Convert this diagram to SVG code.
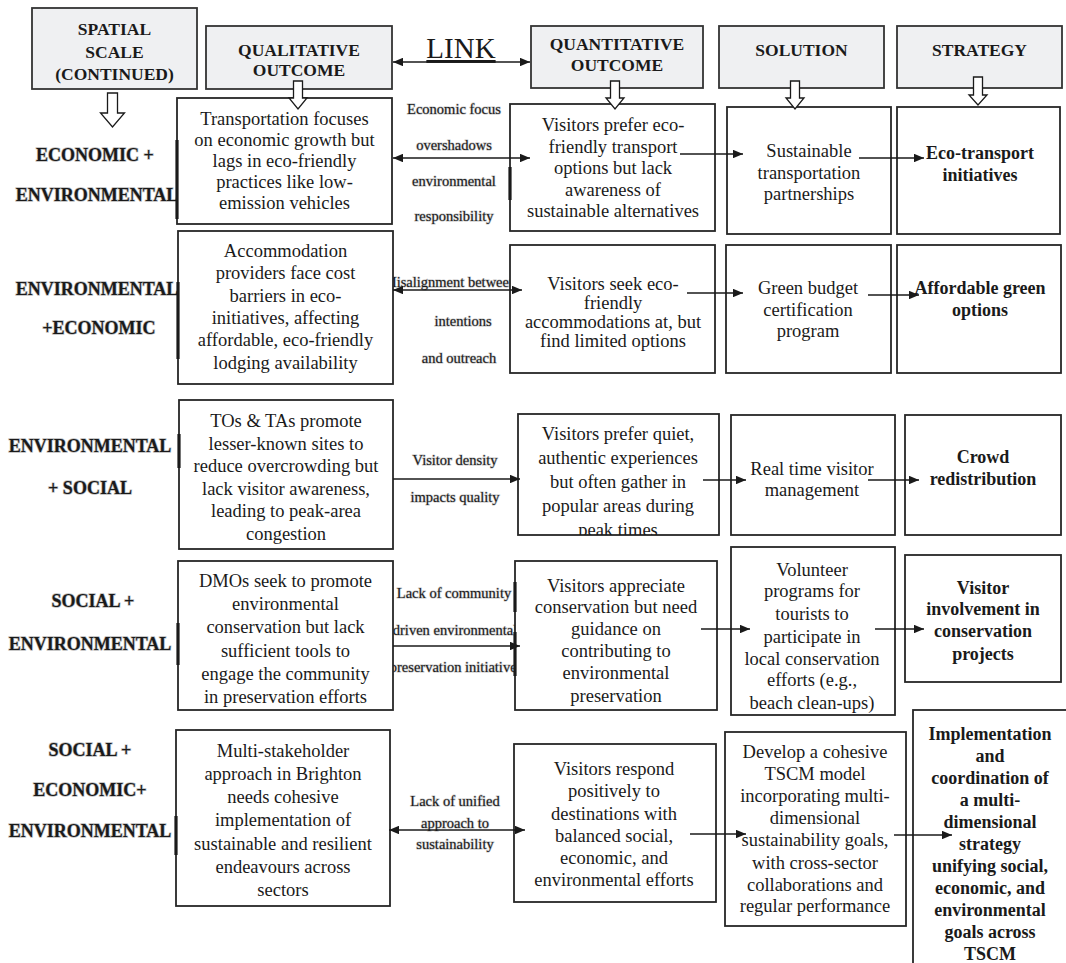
<svg xmlns="http://www.w3.org/2000/svg" width="1066" height="963" viewBox="0 0 1066 963">
  <style>
    .box { fill: #ffffff; stroke: #262626; stroke-width: 1.8; }
    .hbox { fill: #eff0f2; stroke: #333333; stroke-width: 1.8; }
    .edge { stroke: #1a1a1a; stroke-width: 3.2; }
    .blk { fill: #ffffff; stroke: #1a1a1a; stroke-width: 1.3; stroke-linejoin: miter; }
    .ln { stroke: #1a1a1a; stroke-width: 1.3; fill: none; }
    .one { marker-end: url(#ah); }
    .two { marker-start: url(#ah); marker-end: url(#ah); }
    text { font-family: "Liberation Serif", "Times New Roman", serif; fill: #1a1a1a; text-anchor: middle; }
    .hd { font-size: 17.5px; font-weight: bold; }
    .lb { font-size: 18px; font-weight: bold; fill: #222222; stroke: #bdbdbd; stroke-width: 1.4px; paint-order: stroke; }
    .qt { font-size: 18.5px; }
    .st { font-size: 18px; font-weight: bold; }
    .lk { font-size: 14.5px; fill: #222222; stroke: #c4c4c4; stroke-width: 1.2px; paint-order: stroke; }
    .big { font-size: 29px; text-decoration: underline; }
  </style>
  <defs>
    <marker id="ah" viewBox="0 0 10 8.5" refX="10" refY="4.25" markerWidth="10" markerHeight="8.5" markerUnits="userSpaceOnUse" orient="auto-start-reverse">
      <path d="M0,0 L10,4.25 L0,8.5 z" fill="#1a1a1a"/>
    </marker>
    <clipPath id="clip-q3"><rect x="518" y="414" width="201" height="121"/></clipPath>
  </defs>

  <rect width="1066" height="963" fill="#ffffff"/>

  <!-- labels along the qualitative/quantitative links -->
  <g id="link-labels" class="lk">
    <text x="454" y="114">Economic focus</text>
    <text x="454" y="150">overshadows</text>
    <text x="454" y="186">environmental</text>
    <text x="454" y="221">responsibility</text>

    <text x="450" y="287">Misalignment between</text>
    <text x="463" y="326">intentions</text>
    <text x="459" y="363">and outreach</text>

    <text x="455" y="465">Visitor density</text>
    <text x="455" y="502">impacts quality</text>

    <text x="454" y="598">Lack of community</text>
    <text x="455" y="635">driven environmental</text>
    <text x="456" y="672">preservation initiatives</text>

    <text x="455" y="806">Lack of unified</text>
    <text x="455" y="828">approach to</text>
    <text x="455" y="849">sustainability</text>
  </g>

  <!-- column headers -->
  <g id="hdr-spatial">
    <rect class="hbox" x="32" y="8" width="165" height="81"/>
    <text class="hd" x="114.5" y="35">SPATIAL</text>
    <text class="hd" x="114.5" y="58">SCALE</text>
    <text class="hd" x="114.5" y="80">(CONTINUED)</text>
  </g>
  <g id="hdr-qualitative">
    <rect class="hbox" x="206" y="26" width="186" height="63"/>
    <text class="hd" x="299" y="56">QUALITATIVE</text>
    <text class="hd" x="299" y="76">OUTCOME</text>
  </g>
  <g id="hdr-link">
    <text class="big" x="461" y="58">LINK</text>
  </g>
  <g id="hdr-quantitative">
    <rect class="hbox" x="531" y="26" width="172" height="62"/>
    <text class="hd" x="617" y="50">QUANTITATIVE</text>
    <text class="hd" x="617" y="71">OUTCOME</text>
  </g>
  <g id="hdr-solution">
    <rect class="hbox" x="719" y="26" width="165" height="62"/>
    <text class="hd" x="801.5" y="56">SOLUTION</text>
  </g>
  <g id="hdr-strategy">
    <rect class="hbox" x="897" y="26" width="165" height="62"/>
    <text class="hd" x="979.5" y="56">STRATEGY</text>
  </g>

  <!-- row labels -->
  <g id="row1-label" class="lb">
    <text x="95" y="161">ECONOMIC +</text>
    <text x="97" y="201">ENVIRONMENTAL</text>
  </g>
  <g id="row2-label" class="lb">
    <text x="97" y="295">ENVIRONMENTAL</text>
    <text x="99" y="334">+ECONOMIC</text>
  </g>
  <g id="row3-label" class="lb">
    <text x="90" y="452">ENVIRONMENTAL</text>
    <text x="90" y="494">+ SOCIAL</text>
  </g>
  <g id="row4-label" class="lb">
    <text x="93" y="607">SOCIAL +</text>
    <text x="90" y="650">ENVIRONMENTAL</text>
  </g>
  <g id="row5-label" class="lb">
    <text x="90" y="756">SOCIAL +</text>
    <text x="90" y="796">ECONOMIC+</text>
    <text x="90" y="837">ENVIRONMENTAL</text>
  </g>

  <!-- row 1 -->
  <g id="qual-1">
    <rect class="box" x="177" y="98" width="215" height="126"/>
    <line class="edge" x1="177" y1="140" x2="177" y2="219"/>
    <g class="qt">
      <text x="284.5" y="125">Transportation focuses</text>
      <text x="284.5" y="146">on economic growth but</text>
      <text x="284.5" y="167">lags in eco-friendly</text>
      <text x="284.5" y="188">practices like low-</text>
      <text x="284.5" y="209">emission vehicles</text>
    </g>
  </g>
  <g id="quant-1">
    <rect class="box" x="510" y="104" width="205" height="127"/>
    <line class="edge" x1="510" y1="167" x2="510" y2="200"/>
    <g class="qt">
      <text x="613" y="131">Visitors prefer eco-</text>
      <text x="613" y="152.5">friendly transport</text>
      <text x="613" y="174">options but lack</text>
      <text x="613" y="195.5">awareness of</text>
      <text x="613" y="217">sustainable alternatives</text>
    </g>
  </g>
  <g id="sol-1">
    <rect class="box" x="727" y="107" width="164" height="127"/>
    <g class="qt">
      <text x="809" y="157">Sustainable</text>
      <text x="809" y="179">transportation</text>
      <text x="809" y="200">partnerships</text>
    </g>
  </g>
  <g id="strat-1">
    <rect class="box" x="897" y="107" width="163" height="127"/>
    <g class="st">
      <text x="980" y="159">Eco-transport</text>
      <text x="980" y="181">initiatives</text>
    </g>
  </g>

  <!-- row 2 -->
  <g id="qual-2">
    <rect class="box" x="178" y="231" width="215" height="153"/>
    <line class="edge" x1="178" y1="282" x2="178" y2="359"/>
    <g class="qt">
      <text x="285.5" y="257">Accommodation</text>
      <text x="285.5" y="279">providers face cost</text>
      <text x="285.5" y="302">barriers in eco-</text>
      <text x="285.5" y="324">initiatives, affecting</text>
      <text x="285.5" y="346">affordable, eco-friendly</text>
      <text x="285.5" y="369">lodging availability</text>
    </g>
  </g>
  <g id="quant-2">
    <rect class="box" x="510" y="245" width="205" height="128"/>
    <g class="qt">
      <text x="613" y="290">Visitors seek eco-</text>
      <text x="613" y="309">friendly</text>
      <text x="613" y="328">accommodations at, but</text>
      <text x="613" y="347">find limited options</text>
    </g>
  </g>
  <g id="sol-2">
    <rect class="box" x="726" y="245" width="165" height="128"/>
    <g class="qt">
      <text x="808" y="294">Green budget</text>
      <text x="808" y="316">certification</text>
      <text x="808" y="337">program</text>
    </g>
  </g>
  <g id="strat-2">
    <rect class="box" x="897" y="245" width="164" height="128"/>
    <g class="st">
      <text x="980" y="294">Affordable green</text>
      <text x="980" y="316">options</text>
    </g>
  </g>

  <!-- row 3 -->
  <g id="qual-3">
    <rect class="box" x="179" y="400" width="214" height="149"/>
    <line class="edge" x1="179" y1="434" x2="179" y2="468"/>
    <g class="qt">
      <text x="286" y="427">TOs &amp; TAs promote</text>
      <text x="286" y="449.5">lesser-known sites to</text>
      <text x="286" y="472">reduce overcrowding but</text>
      <text x="286" y="494.5">lack visitor awareness,</text>
      <text x="286" y="517">leading to peak-area</text>
      <text x="286" y="539.5">congestion</text>
    </g>
  </g>
  <g id="quant-3">
    <rect class="box" x="518" y="414" width="201" height="121"/>
    <g class="qt" clip-path="url(#clip-q3)">
      <text x="618" y="440">Visitors prefer quiet,</text>
      <text x="618" y="464">authentic experiences</text>
      <text x="618" y="488">but often gather in</text>
      <text x="618" y="512">popular areas during</text>
      <text x="618" y="536">peak times</text>
    </g>
  </g>
  <g id="sol-3">
    <rect class="box" x="731" y="415" width="164" height="120"/>
    <g class="qt">
      <text x="812" y="475">Real time visitor</text>
      <text x="812" y="496">management</text>
    </g>
  </g>
  <g id="strat-3">
    <rect class="box" x="905" y="415" width="156" height="120"/>
    <g class="st">
      <text x="983" y="463">Crowd</text>
      <text x="983" y="485">redistribution</text>
    </g>
  </g>

  <!-- row 4 -->
  <g id="qual-4">
    <rect class="box" x="178" y="561" width="215" height="149"/>
    <line class="edge" x1="178" y1="623" x2="178" y2="665"/>
    <g class="qt">
      <text x="285.5" y="587">DMOs seek to promote</text>
      <text x="285.5" y="610">environmental</text>
      <text x="285.5" y="633">conservation but lack</text>
      <text x="285.5" y="657">sufficient tools to</text>
      <text x="285.5" y="680">engage the community</text>
      <text x="285.5" y="703">in preservation efforts</text>
    </g>
  </g>
  <g id="quant-4">
    <rect class="box" x="515" y="561" width="202" height="149"/>
    <line class="edge" x1="515" y1="582" x2="515" y2="612"/>
    <line class="edge" x1="515" y1="632" x2="515" y2="676"/>
    <g class="qt">
      <text x="616" y="592">Visitors appreciate</text>
      <text x="616" y="613">conservation but need</text>
      <text x="616" y="635">guidance on</text>
      <text x="616" y="657">contributing to</text>
      <text x="616" y="679">environmental</text>
      <text x="616" y="702">preservation</text>
    </g>
  </g>
  <g id="sol-4">
    <rect class="box" x="731" y="547" width="164" height="168"/>
    <g class="qt">
      <text x="812" y="576">Volunteer</text>
      <text x="812" y="597">programs for</text>
      <text x="812" y="620">tourists to</text>
      <text x="812" y="643">participate in</text>
      <text x="812" y="665">local conservation</text>
      <text x="812" y="686">efforts (e.g.,</text>
      <text x="812" y="709">beach clean-ups)</text>
    </g>
  </g>
  <g id="strat-4">
    <rect class="box" x="905" y="555" width="156" height="127"/>
    <g class="st">
      <text x="983" y="594">Visitor</text>
      <text x="983" y="615">involvement in</text>
      <text x="983" y="637">conservation</text>
      <text x="983" y="660">projects</text>
    </g>
  </g>

  <!-- row 5 -->
  <g id="qual-5">
    <rect class="box" x="176" y="730" width="214" height="176"/>
    <line class="edge" x1="176" y1="816" x2="176" y2="855"/>
    <g class="qt">
      <text x="283" y="757">Multi-stakeholder</text>
      <text x="283" y="780">approach in Brighton</text>
      <text x="283" y="803">needs cohesive</text>
      <text x="283" y="826">implementation of</text>
      <text x="283" y="850">sustainable and resilient</text>
      <text x="283" y="873">endeavours across</text>
      <text x="283" y="896">sectors</text>
    </g>
  </g>
  <g id="quant-5">
    <rect class="box" x="514" y="744" width="202" height="158"/>
    <g class="qt">
      <text x="614" y="775">Visitors respond</text>
      <text x="614" y="797">positively to</text>
      <text x="614" y="820">destinations with</text>
      <text x="614" y="842">balanced social,</text>
      <text x="614" y="864">economic, and</text>
      <text x="614" y="886">environmental efforts</text>
    </g>
  </g>
  <g id="sol-5">
    <rect class="box" x="725" y="732" width="181" height="194"/>
    <g class="qt">
      <text x="815" y="758">Develop a cohesive</text>
      <text x="815" y="780">TSCM model</text>
      <text x="815" y="802">incorporating multi-</text>
      <text x="815" y="824">dimensional</text>
      <text x="815" y="846">sustainability goals,</text>
      <text x="815" y="869">with cross-sector</text>
      <text x="815" y="891">collaborations and</text>
      <text x="815" y="912">regular performance</text>
    </g>
  </g>
  <g id="strat-5">
    <rect class="box" x="913" y="710" width="170" height="280"/>
    <g class="st">
      <text x="990" y="740">Implementation</text>
      <text x="990" y="762">and</text>
      <text x="990" y="784">coordination of</text>
      <text x="990" y="806">a multi-</text>
      <text x="990" y="828">dimensional</text>
      <text x="990" y="850">strategy</text>
      <text x="990" y="872">unifying social,</text>
      <text x="990" y="894">economic, and</text>
      <text x="990" y="916">environmental</text>
      <text x="990" y="938">goals across</text>
      <text x="990" y="960">TSCM</text>
    </g>
  </g>

  <!-- connectors: hollow column arrows, link arrows and flow arrows -->
  <g id="connectors">
    <polygon class="blk" points="107.5,93 117.5,93 117.5,113 124.5,113 112.5,127 100.5,113 107.5,113"/>
    <polygon class="blk" points="293.5,81 302.5,81 302.5,98 307,98 298,109 289,98 293.5,98"/>
    <polygon class="blk" points="610.5,81 619.5,81 619.5,98 624,98 615,109 606,98 610.5,98"/>
    <polygon class="blk" points="790.5,81 799.5,81 799.5,98 804,98 795,109 786,98 790.5,98"/>
    <polygon class="blk" points="973.5,77 982.5,77 982.5,95 987,95 978,105 969,95 973.5,95"/>

    <line class="ln two" x1="393" y1="62" x2="530" y2="62"/>

    <line class="ln two" x1="393" y1="158" x2="530" y2="158"/>
    <line class="ln one" x1="680" y1="154" x2="743" y2="154"/>
    <line class="ln one" x1="859" y1="158" x2="924" y2="158"/>

    <line class="ln two" x1="393" y1="290" x2="522" y2="290"/>
    <line class="ln one" x1="687" y1="293" x2="743" y2="293"/>
    <line class="ln one" x1="868" y1="295" x2="919" y2="295"/>

    <line class="ln one" x1="393" y1="479" x2="520" y2="479"/>
    <line class="ln one" x1="703" y1="480" x2="746" y2="480"/>
    <line class="ln one" x1="868" y1="480" x2="919" y2="480"/>

    <line class="ln one" x1="393" y1="646" x2="520" y2="646"/>
    <line class="ln one" x1="701" y1="629" x2="750" y2="629"/>
    <line class="ln one" x1="875" y1="629" x2="924" y2="629"/>

    <line class="ln two" x1="389" y1="830" x2="525" y2="830"/>
    <line class="ln one" x1="690" y1="834" x2="746" y2="834"/>
    <line class="ln one" x1="894" y1="835" x2="952" y2="835"/>
  </g>
</svg>
